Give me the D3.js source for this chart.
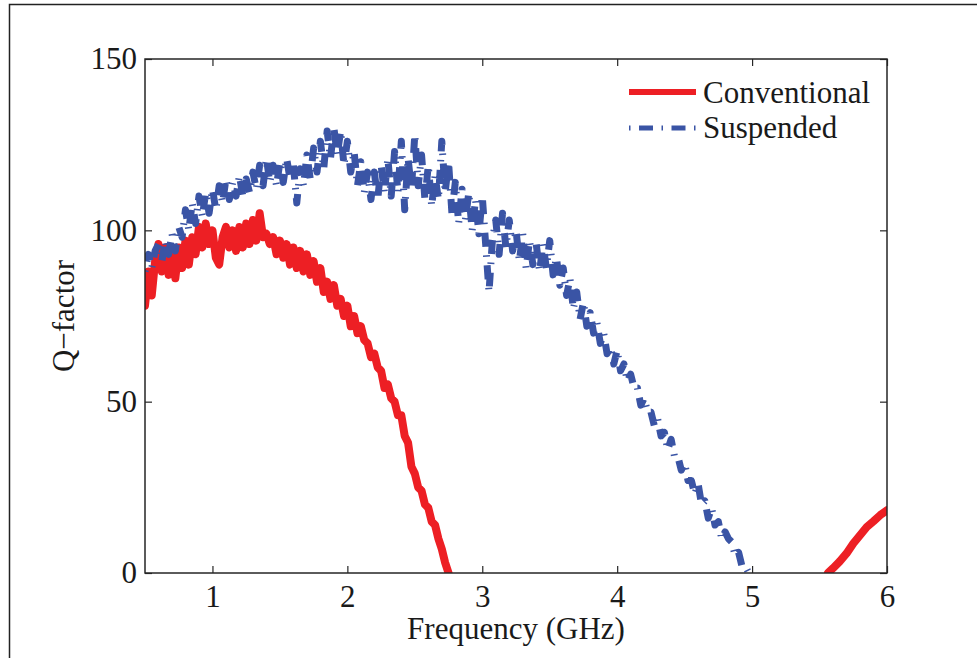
<!DOCTYPE html>
<html>
<head>
<meta charset="utf-8">
<script src="https://cdn.jsdelivr.net/npm/d3@7"></script>
<style>
  html, body { margin: 0; padding: 0; background: #fff; }
  svg { display: block; }
  text { font-family: "Liberation Serif", "Times New Roman", serif; fill: #1a1a1a; }
</style>
</head>
<body>
<svg id="chart" width="977" height="658"></svg>
<script>
// ---------------- data ----------------
const xTicks = [1, 2, 3, 4, 5, 6];
const yTicks = [0, 50, 100, 150];
const seriesNames = ["Conventional", "Suspended"];

// Conventional: sampled every 0.025 GHz from 0.5 GHz
const convStart = 0.5, convStep = 0.025;
const convQ = [
  78, 88, 81, 91,    96, 88, 95, 87,    94, 86, 95, 89,    97, 90, 98, 93,
  101, 95, 102, 96,  100, 92, 90, 98,   101, 95, 100, 94,  101, 95, 102, 96,
  103, 97, 105, 98,  99, 96, 98, 93,    97, 92, 96, 90,    95, 89, 94, 88,
  93, 87, 91, 85,    89, 82, 85, 80,    84, 78, 80, 75,    78, 72, 75, 70,
  72, 68, 67, 63,    64, 60, 59, 54,    55, 51, 50, 46,    46, 40, 38, 31,
  29, 25, 24, 20,    19, 15, 14, 10,    7, 3, 0
];
// Conventional, high-frequency branch
const convHighF = [5.563, 5.6, 5.65, 5.7, 5.75, 5.8, 5.85, 5.9, 5.95, 6.0];
const convHighQ = [0, 1.4, 3.4, 5.7, 8.6, 11.0, 13.4, 15.1, 16.9, 18.3];

// Suspended: sampled every 0.025 GHz from 0.5 GHz
const suspStart = 0.5, suspStep = 0.025;
const suspQ = [
  88, 93, 89, 94,     96, 91, 97, 93,     99, 94, 101, 98,    106, 100, 108, 102,
  110, 104, 111, 105, 112, 106, 113, 108, 115, 109, 114, 110, 116, 110, 115, 111,
  117, 112, 119, 113, 121, 114, 119, 113, 120, 114, 121, 115, 119, 108, 118, 113,
  122, 115, 124, 117, 126, 118, 129, 121, 130, 122, 129, 119, 126, 117, 123, 113,
  120, 111, 117, 109, 117, 109, 119, 111, 121, 110, 123, 111, 126, 106, 121, 112,
  128, 113, 122, 109, 119, 107, 116, 109, 126, 111, 120, 105, 114, 102, 112, 103,
  111, 100, 109, 99,  110, 96, 82, 97,    103, 93, 105, 95,   103, 94, 100, 91,
  99, 89, 97, 90,     96, 88, 96, 89,     97, 87, 92, 84,     89, 81, 86, 77,
  82, 74, 79, 72,     76, 70, 73, 67,     70, 64, 66, 61,     65, 59, 61, 56,
  58, 54, 54, 49,     51, 47, 47, 43,     45, 40, 41, 36,     39, 34, 34, 30,
  32, 27, 27, 23,     26, 20, 21, 16,     19, 14, 15, 10,     12, 10, 9, 5,
  6, 2, 2, 0
];

// ---------------- build ----------------
const conv = convQ.map((q, i) => ({ f: convStart + i * convStep, q }));
const convHigh = convHighF.map((f, i) => ({ f, q: convHighQ[i] }));
const susp = suspQ.map((q, i) => ({ f: suspStart + i * suspStep, q }));

const W = 977, H = 658;
const plot = { left: 145, right: 887, top: 59, bottom: 573 };
const RED = "#ed1f24", BLUE = "#3a54a5", AX = "#262626";

const svg = d3.select("#chart");
svg.append("rect").attr("width", W).attr("height", H).attr("fill", "#fff");
// outer figure frame
svg.append("path")
  .attr("d", "M9.5,680 V4.5 H990")
  .attr("fill", "none").attr("stroke", "#222").attr("stroke-width", 1.5);

const x = d3.scaleLinear().domain([0.5, 6]).range([plot.left, plot.right]);
const y = d3.scaleLinear().domain([0, 150]).range([plot.bottom, plot.top]);

svg.append("defs").append("clipPath").attr("id", "clip")
  .append("rect")
  .attr("x", plot.left).attr("y", plot.top)
  .attr("width", plot.right - plot.left).attr("height", plot.bottom - plot.top);

const line = d3.line().x(d => x(d.f)).y(d => y(d.q));
const g = svg.append("g").attr("clip-path", "url(#clip)");

g.append("path").datum(conv)
  .attr("d", line).attr("fill", "none").attr("stroke", RED)
  .attr("stroke-width", 8).attr("stroke-linejoin", "round").attr("stroke-linecap", "round");
g.append("path").datum(convHigh)
  .attr("d", line).attr("fill", "none").attr("stroke", RED)
  .attr("stroke-width", 8).attr("stroke-linejoin", "round").attr("stroke-linecap", "round");
g.append("path").datum(susp)
  .attr("d", line).attr("fill", "none").attr("stroke", BLUE)
  .attr("stroke-width", 7).attr("stroke-linejoin", "round").attr("stroke-linecap", "butt")
  .attr("stroke-dasharray", "1.5,8.5,14,8.5");

// axes (ticks inward on all four sides)
function styleAxis(sel) {
  sel.select(".domain").remove();
  sel.selectAll(".tick line").attr("stroke", AX).attr("stroke-width", 1.2);
  sel.selectAll(".tick text").attr("fill", "#1a1a1a")
    .style("font-family", '"Liberation Serif", "Times New Roman", serif')
    .style("font-size", "31px");
}
svg.append("g").attr("transform", `translate(0,${plot.bottom})`)
  .call(d3.axisBottom(x).tickValues(xTicks).tickFormat(d3.format("d")).tickSize(-7).tickPadding(12))
  .call(styleAxis);
svg.append("g").attr("transform", `translate(0,${plot.top})`)
  .call(d3.axisTop(x).tickValues(xTicks).tickFormat("").tickSize(-7))
  .call(styleAxis);
svg.append("g").attr("transform", `translate(${plot.left},0)`)
  .call(d3.axisLeft(y).tickValues(yTicks).tickFormat(d3.format("d")).tickSize(-7).tickPadding(8))
  .call(styleAxis);
svg.append("g").attr("transform", `translate(${plot.right},0)`)
  .call(d3.axisRight(y).tickValues(yTicks).tickFormat("").tickSize(-7))
  .call(styleAxis);

// box
svg.append("rect")
  .attr("x", plot.left).attr("y", plot.top)
  .attr("width", plot.right - plot.left).attr("height", plot.bottom - plot.top)
  .attr("fill", "none").attr("stroke", AX).attr("stroke-width", 1.5);

// axis titles
svg.append("text").attr("x", (plot.left + plot.right) / 2).attr("y", 639)
  .attr("text-anchor", "middle").attr("font-size", 31).text("Frequency (GHz)");
svg.append("text").attr("transform", `translate(74,${(plot.top + plot.bottom) / 2}) rotate(-90)`)
  .attr("text-anchor", "middle").attr("font-size", 31).text("Q\u2212factor");

// legend
const lg = svg.append("g");
lg.append("line").attr("x1", 629).attr("x2", 696).attr("y1", 92).attr("y2", 92)
  .attr("stroke", RED).attr("stroke-width", 6);
lg.append("text").attr("x", 703).attr("y", 103).attr("font-size", 31).text(seriesNames[0]);
lg.append("line").attr("x1", 629).attr("x2", 697).attr("y1", 128).attr("y2", 128)
  .attr("stroke", BLUE).attr("stroke-width", 5).attr("stroke-dasharray", "1.5,8.5,14,8.5");
lg.append("text").attr("x", 703).attr("y", 138).attr("font-size", 31).text(seriesNames[1]);
</script>
</body>
</html>
